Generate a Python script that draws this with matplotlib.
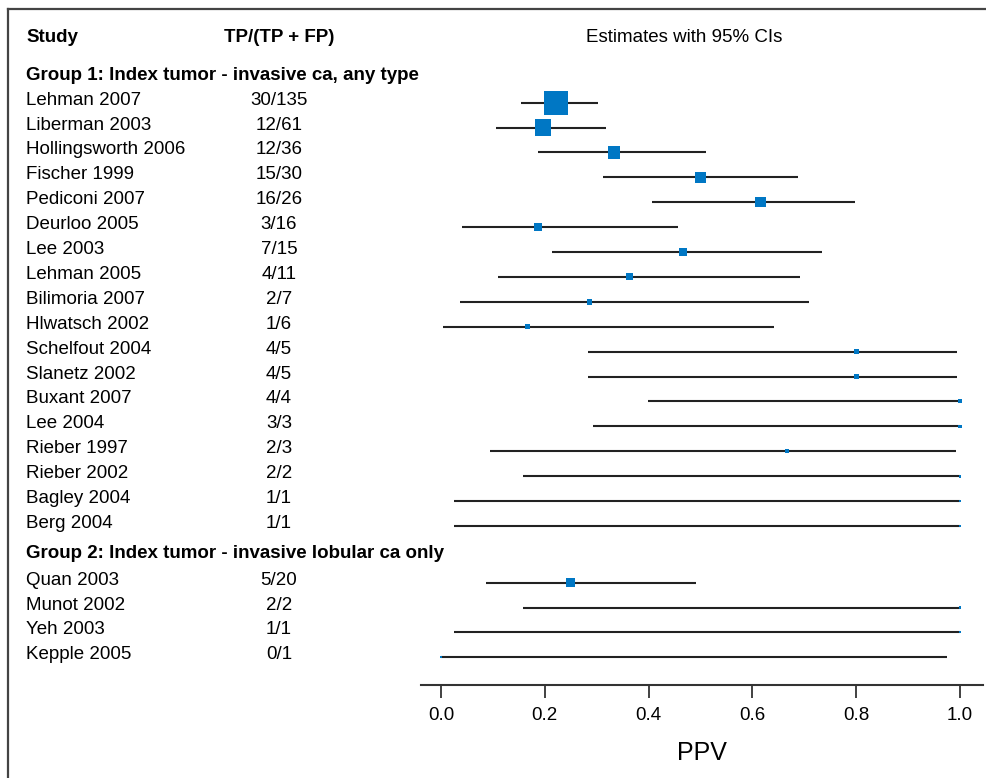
import numpy as np
import matplotlib.pyplot as plt
import matplotlib.transforms as mtransforms
from matplotlib.lines import Line2D

plt.rcParams['font.family'] = ['Liberation Sans', 'DejaVu Sans']

# group 1: index tumor - invasive ca, any type
studies_g1 = ['Lehman 2007', 'Liberman 2003', 'Hollingsworth 2006', 'Fischer 1999',
              'Pediconi 2007', 'Deurloo 2005', 'Lee 2003', 'Lehman 2005',
              'Bilimoria 2007', 'Hlwatsch 2002', 'Schelfout 2004', 'Slanetz 2002',
              'Buxant 2007', 'Lee 2004', 'Rieber 1997', 'Rieber 2002',
              'Bagley 2004', 'Berg 2004']
tp_g1 = [30, 12, 12, 15, 16, 3, 7, 4, 2, 1, 4, 4, 4, 3, 2, 2, 1, 1]
n_g1 = [135, 61, 36, 30, 26, 16, 15, 11, 7, 6, 5, 5, 4, 3, 3, 2, 1, 1]
lo_g1 = [0.155, 0.106, 0.186, 0.313, 0.406, 0.040, 0.213, 0.109, 0.037, 0.004,
         0.284, 0.284, 0.398, 0.292, 0.094, 0.158, 0.025, 0.025]
hi_g1 = [0.302, 0.318, 0.510, 0.687, 0.798, 0.456, 0.734, 0.692, 0.710, 0.641,
         0.995, 0.995, 1.0, 1.0, 0.992, 1.0, 1.0, 1.0]

# group 2: index tumor - invasive lobular ca only
studies_g2 = ['Quan 2003', 'Munot 2002', 'Yeh 2003', 'Kepple 2005']
tp_g2 = [5, 2, 1, 0]
n_g2 = [20, 2, 1, 1]
lo_g2 = [0.087, 0.158, 0.025, 0.0]
hi_g2 = [0.491, 1.0, 1.0, 0.975]

group_titles = ['Group 1: Index tumor - invasive ca, any type',
                'Group 2: Index tumor - invasive lobular ca only']
ticks = [0.0, 0.2, 0.4, 0.6, 0.8, 1.0]

W, H = 986, 778
fig = plt.figure(figsize=(W / 100, H / 100), dpi=100)
ax = fig.add_axes([421 / W, 1 - 685 / H, (983 - 421) / W, (685 - 10) / H])

# row positions (group 2 sits a bit lower after its title)
rows_g1 = np.arange(len(studies_g1))
rows_g2 = 19.28 + np.arange(len(studies_g2))

blue = '#0077c4'
for rows, tp, n, lo, hi in [(rows_g1, tp_g1, n_g1, lo_g1, hi_g1),
                            (rows_g2, tp_g2, n_g2, lo_g2, hi_g2)]:
    ppv = np.array(tp) / np.array(n)
    ax.hlines(rows, lo, hi, color='#222222', lw=1.5, zorder=2)
    ax.scatter(ppv, rows, s=2.2 * np.array(n), marker='s', color=blue,
               linewidths=0, zorder=3)

ax.set_xlim(-20 / 519, (983 - 441) / 519)
ax.set_ylim(23.39, -3.72)
ax.set_xticks(ticks)
ax.set_xticklabels([f'{t:.1f}' for t in ticks], fontsize=13.5)
ax.tick_params(axis='x', length=9, width=1.3, color='#333333', pad=7)
ax.set_yticks([])
for s in ['top', 'right', 'left']:
    ax.spines[s].set_visible(False)
ax.spines['bottom'].set_linewidth(1.5)
ax.spines['bottom'].set_color('#333333')
ax.patch.set_visible(False)

# text columns
tr = mtransforms.blended_transform_factory(fig.transFigure, ax.transData)
fs = 13.5
xs, xc = 26 / W, 279 / W
ax.text(xs, -2.61, 'Study', transform=tr, fontsize=fs, weight='bold', va='center')
ax.text(xc, -2.61, 'TP/(TP + FP)', transform=tr, fontsize=fs, weight='bold',
        va='center', ha='center')
ax.text(684 / W, -2.61, 'Estimates with 95% CIs', transform=tr, fontsize=fs,
        va='center', ha='center')
ax.text(xs, -1.1, group_titles[0], transform=tr, fontsize=fs, weight='bold', va='center')
ax.text(xs, 18.11, group_titles[1], transform=tr, fontsize=fs, weight='bold', va='center')

for rows, names, tp, n in [(rows_g1, studies_g1, tp_g1, n_g1),
                           (rows_g2, studies_g2, tp_g2, n_g2)]:
    for r, name, a, b in zip(rows, names, tp, n):
        ax.text(xs, r - 0.1, name, transform=tr, fontsize=fs, va='center')
        ax.text(xc, r - 0.1, f'{a}/{b}', transform=tr, fontsize=fs, va='center',
                ha='center')

fig.text(702 / W, 1 - 753 / H, 'PPV', fontsize=18, ha='center', va='center',
         family=['Liberation Sans Narrow', 'Liberation Sans', 'DejaVu Sans'])

# frame on top and left
fig.add_artist(Line2D([8 / W, 1], [1 - 9.3 / H, 1 - 9.3 / H], transform=fig.transFigure,
                      color='#444444', lw=1.6))
fig.add_artist(Line2D([8 / W, 8 / W], [0, 1 - 9.3 / H], transform=fig.transFigure,
                      color='#444444', lw=1.6))

fig.savefig('out.png', dpi=100)
